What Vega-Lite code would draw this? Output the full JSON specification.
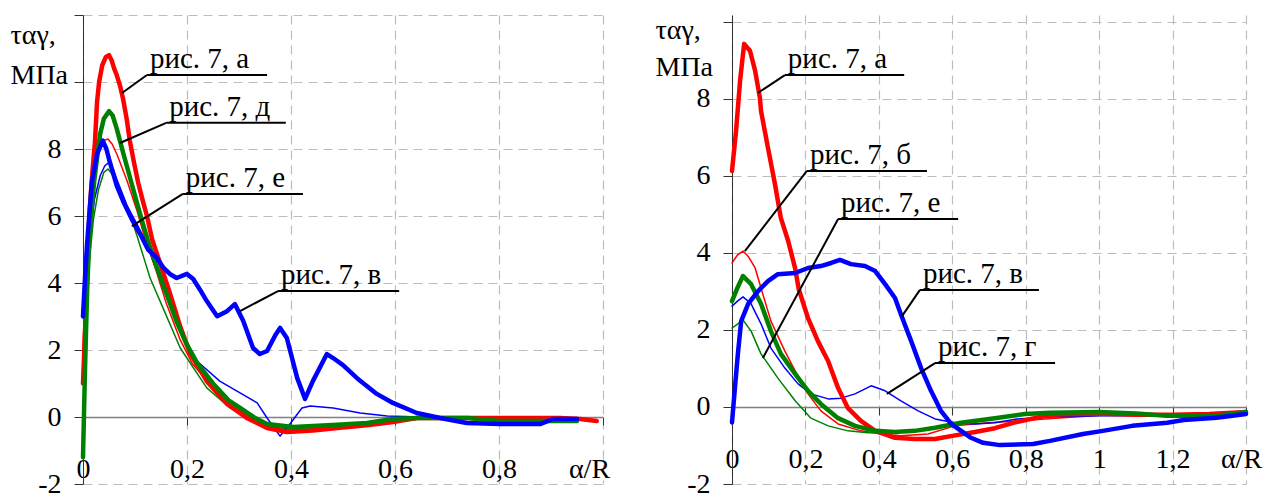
{
  "$schema": "https://vega.github.io/schema/vega-lite/v6.json",
  "padding": {"left": 10, "top": 1, "right": 5, "bottom": 0},
  "bounds": "flush",
  "spacing": 129,
  "config": {
    "view": {"stroke": null}
  },
  "datasets": {
    "curves": [
      {"panel": "left", "fig": "а", "x": 0, "y": 1.0},
      {"panel": "left", "fig": "а", "x": 0.004, "y": 2.6},
      {"panel": "left", "fig": "а", "x": 0.007, "y": 4.3},
      {"panel": "left", "fig": "а", "x": 0.013, "y": 6.2},
      {"panel": "left", "fig": "а", "x": 0.018, "y": 7.3},
      {"panel": "left", "fig": "а", "x": 0.023, "y": 8.2},
      {"panel": "left", "fig": "а", "x": 0.027, "y": 9.4},
      {"panel": "left", "fig": "а", "x": 0.031, "y": 10.0},
      {"panel": "left", "fig": "а", "x": 0.037, "y": 10.5},
      {"panel": "left", "fig": "а", "x": 0.044, "y": 10.75},
      {"panel": "left", "fig": "а", "x": 0.05, "y": 10.8},
      {"panel": "left", "fig": "а", "x": 0.055, "y": 10.65},
      {"panel": "left", "fig": "а", "x": 0.06, "y": 10.4},
      {"panel": "left", "fig": "а", "x": 0.065, "y": 10.2},
      {"panel": "left", "fig": "а", "x": 0.071, "y": 9.9},
      {"panel": "left", "fig": "а", "x": 0.077, "y": 9.5},
      {"panel": "left", "fig": "а", "x": 0.084, "y": 8.9},
      {"panel": "left", "fig": "а", "x": 0.09, "y": 8.25},
      {"panel": "left", "fig": "а", "x": 0.098, "y": 7.6},
      {"panel": "left", "fig": "а", "x": 0.106, "y": 7.0},
      {"panel": "left", "fig": "а", "x": 0.115, "y": 6.45},
      {"panel": "left", "fig": "а", "x": 0.123, "y": 6.0},
      {"panel": "left", "fig": "а", "x": 0.133, "y": 5.3},
      {"panel": "left", "fig": "а", "x": 0.148, "y": 4.6},
      {"panel": "left", "fig": "а", "x": 0.167, "y": 3.7},
      {"panel": "left", "fig": "а", "x": 0.187, "y": 2.7},
      {"panel": "left", "fig": "а", "x": 0.206, "y": 1.9},
      {"panel": "left", "fig": "а", "x": 0.238, "y": 1.07},
      {"panel": "left", "fig": "а", "x": 0.277, "y": 0.39},
      {"panel": "left", "fig": "а", "x": 0.315, "y": -0.03},
      {"panel": "left", "fig": "а", "x": 0.354, "y": -0.33},
      {"panel": "left", "fig": "а", "x": 0.392, "y": -0.45},
      {"panel": "left", "fig": "а", "x": 0.442, "y": -0.4},
      {"panel": "left", "fig": "а", "x": 0.494, "y": -0.32},
      {"panel": "left", "fig": "а", "x": 0.546, "y": -0.25},
      {"panel": "left", "fig": "а", "x": 0.596, "y": -0.15},
      {"panel": "left", "fig": "а", "x": 0.642, "y": -0.03},
      {"panel": "left", "fig": "а", "x": 0.74, "y": -0.03},
      {"panel": "left", "fig": "а", "x": 0.917, "y": -0.03},
      {"panel": "left", "fig": "а", "x": 0.956, "y": -0.06},
      {"panel": "left", "fig": "а", "x": 0.988, "y": -0.12},

      {"panel": "left", "fig": "д", "x": 0, "y": -1.2},
      {"panel": "left", "fig": "д", "x": 0.004, "y": 1.5},
      {"panel": "left", "fig": "д", "x": 0.008, "y": 3.8},
      {"panel": "left", "fig": "д", "x": 0.012, "y": 5.3},
      {"panel": "left", "fig": "д", "x": 0.017, "y": 6.3},
      {"panel": "left", "fig": "д", "x": 0.022, "y": 7.1},
      {"panel": "left", "fig": "д", "x": 0.026, "y": 7.6},
      {"panel": "left", "fig": "д", "x": 0.033, "y": 8.45},
      {"panel": "left", "fig": "д", "x": 0.04, "y": 8.9},
      {"panel": "left", "fig": "д", "x": 0.05, "y": 9.13},
      {"panel": "left", "fig": "д", "x": 0.057, "y": 9.0},
      {"panel": "left", "fig": "д", "x": 0.065, "y": 8.6},
      {"panel": "left", "fig": "д", "x": 0.077, "y": 7.9},
      {"panel": "left", "fig": "д", "x": 0.094, "y": 6.94},
      {"panel": "left", "fig": "д", "x": 0.11, "y": 6.05},
      {"panel": "left", "fig": "д", "x": 0.125, "y": 5.25},
      {"panel": "left", "fig": "д", "x": 0.14, "y": 4.55},
      {"panel": "left", "fig": "д", "x": 0.16, "y": 3.7},
      {"panel": "left", "fig": "д", "x": 0.18, "y": 2.85},
      {"panel": "left", "fig": "д", "x": 0.2, "y": 2.15},
      {"panel": "left", "fig": "д", "x": 0.22, "y": 1.6},
      {"panel": "left", "fig": "д", "x": 0.25, "y": 1.0},
      {"panel": "left", "fig": "д", "x": 0.28, "y": 0.5},
      {"panel": "left", "fig": "д", "x": 0.302, "y": 0.27},
      {"panel": "left", "fig": "д", "x": 0.33, "y": -0.02},
      {"panel": "left", "fig": "д", "x": 0.354, "y": -0.21},
      {"panel": "left", "fig": "д", "x": 0.404, "y": -0.3},
      {"panel": "left", "fig": "д", "x": 0.48, "y": -0.24},
      {"panel": "left", "fig": "д", "x": 0.546, "y": -0.18},
      {"panel": "left", "fig": "д", "x": 0.596, "y": -0.06},
      {"panel": "left", "fig": "д", "x": 0.642, "y": -0.03},
      {"panel": "left", "fig": "д", "x": 0.74, "y": -0.03},
      {"panel": "left", "fig": "д", "x": 0.8, "y": -0.12},
      {"panel": "left", "fig": "д", "x": 0.95, "y": -0.12},

      {"panel": "left", "fig": "б", "x": 0, "y": 2.0},
      {"panel": "left", "fig": "б", "x": 0.006, "y": 4.5},
      {"panel": "left", "fig": "б", "x": 0.012, "y": 6.3},
      {"panel": "left", "fig": "б", "x": 0.02, "y": 7.3},
      {"panel": "left", "fig": "б", "x": 0.03, "y": 7.9},
      {"panel": "left", "fig": "б", "x": 0.04, "y": 8.25},
      {"panel": "left", "fig": "б", "x": 0.048, "y": 8.3},
      {"panel": "left", "fig": "б", "x": 0.056, "y": 8.15},
      {"panel": "left", "fig": "б", "x": 0.065, "y": 7.85},
      {"panel": "left", "fig": "б", "x": 0.085, "y": 7.04},
      {"panel": "left", "fig": "б", "x": 0.104, "y": 6.15},
      {"panel": "left", "fig": "б", "x": 0.119, "y": 5.34},
      {"panel": "left", "fig": "б", "x": 0.14, "y": 4.4},
      {"panel": "left", "fig": "б", "x": 0.16, "y": 3.4},
      {"panel": "left", "fig": "б", "x": 0.187, "y": 2.3},
      {"panel": "left", "fig": "б", "x": 0.21, "y": 1.6},
      {"panel": "left", "fig": "б", "x": 0.25, "y": 0.87},
      {"panel": "left", "fig": "б", "x": 0.28, "y": 0.4},
      {"panel": "left", "fig": "б", "x": 0.315, "y": 0.05},
      {"panel": "left", "fig": "б", "x": 0.35, "y": -0.25},
      {"panel": "left", "fig": "б", "x": 0.379, "y": -0.35},
      {"panel": "left", "fig": "б", "x": 0.42, "y": -0.38},
      {"panel": "left", "fig": "б", "x": 0.48, "y": -0.3},
      {"panel": "left", "fig": "б", "x": 0.55, "y": -0.2},
      {"panel": "left", "fig": "б", "x": 0.62, "y": -0.05},
      {"panel": "left", "fig": "б", "x": 0.7, "y": -0.02},
      {"panel": "left", "fig": "б", "x": 0.9, "y": -0.02},

      {"panel": "left", "fig": "е", "x": 0, "y": -0.5},
      {"panel": "left", "fig": "е", "x": 0.006, "y": 2.5},
      {"panel": "left", "fig": "е", "x": 0.012, "y": 4.6},
      {"panel": "left", "fig": "е", "x": 0.02, "y": 5.9},
      {"panel": "left", "fig": "е", "x": 0.03, "y": 6.8},
      {"panel": "left", "fig": "е", "x": 0.04, "y": 7.3},
      {"panel": "left", "fig": "е", "x": 0.048, "y": 7.4},
      {"panel": "left", "fig": "е", "x": 0.056, "y": 7.25},
      {"panel": "left", "fig": "е", "x": 0.071, "y": 6.84},
      {"panel": "left", "fig": "е", "x": 0.09, "y": 6.05},
      {"panel": "left", "fig": "е", "x": 0.104, "y": 5.4},
      {"panel": "left", "fig": "е", "x": 0.12, "y": 4.6},
      {"panel": "left", "fig": "е", "x": 0.129, "y": 4.15},
      {"panel": "left", "fig": "е", "x": 0.154, "y": 3.25},
      {"panel": "left", "fig": "е", "x": 0.187, "y": 2.06},
      {"panel": "left", "fig": "е", "x": 0.238, "y": 0.87},
      {"panel": "left", "fig": "е", "x": 0.283, "y": 0.27},
      {"panel": "left", "fig": "е", "x": 0.335, "y": -0.18},
      {"panel": "left", "fig": "е", "x": 0.379, "y": -0.33},
      {"panel": "left", "fig": "е", "x": 0.43, "y": -0.33},
      {"panel": "left", "fig": "е", "x": 0.5, "y": -0.25},
      {"panel": "left", "fig": "е", "x": 0.6, "y": -0.1},
      {"panel": "left", "fig": "е", "x": 0.7, "y": -0.03},
      {"panel": "left", "fig": "е", "x": 0.9, "y": -0.03},

      {"panel": "left", "fig": "г", "x": 0, "y": 1.0},
      {"panel": "left", "fig": "г", "x": 0.006, "y": 3.5},
      {"panel": "left", "fig": "г", "x": 0.013, "y": 5.3},
      {"panel": "left", "fig": "г", "x": 0.022, "y": 6.5},
      {"panel": "left", "fig": "г", "x": 0.033, "y": 7.2},
      {"panel": "left", "fig": "г", "x": 0.042, "y": 7.5},
      {"panel": "left", "fig": "г", "x": 0.05, "y": 7.6},
      {"panel": "left", "fig": "г", "x": 0.058, "y": 7.4},
      {"panel": "left", "fig": "г", "x": 0.065, "y": 7.1},
      {"panel": "left", "fig": "г", "x": 0.085, "y": 6.3},
      {"panel": "left", "fig": "г", "x": 0.104, "y": 5.75},
      {"panel": "left", "fig": "г", "x": 0.123, "y": 5.16},
      {"panel": "left", "fig": "г", "x": 0.154, "y": 3.85},
      {"panel": "left", "fig": "г", "x": 0.187, "y": 2.57},
      {"panel": "left", "fig": "г", "x": 0.219, "y": 1.67},
      {"panel": "left", "fig": "г", "x": 0.263, "y": 1.07},
      {"panel": "left", "fig": "г", "x": 0.302, "y": 0.72},
      {"panel": "left", "fig": "г", "x": 0.335, "y": 0.42},
      {"panel": "left", "fig": "г", "x": 0.354, "y": -0.03},
      {"panel": "left", "fig": "г", "x": 0.379, "y": -0.57},
      {"panel": "left", "fig": "г", "x": 0.398, "y": -0.21},
      {"panel": "left", "fig": "г", "x": 0.421, "y": 0.27},
      {"panel": "left", "fig": "г", "x": 0.437, "y": 0.33},
      {"panel": "left", "fig": "г", "x": 0.481, "y": 0.27},
      {"panel": "left", "fig": "г", "x": 0.533, "y": 0.12},
      {"panel": "left", "fig": "г", "x": 0.585, "y": 0.03},
      {"panel": "left", "fig": "г", "x": 0.65, "y": 0.0},
      {"panel": "left", "fig": "г", "x": 0.75, "y": -0.03},
      {"panel": "left", "fig": "г", "x": 0.9, "y": -0.03},

      {"panel": "left", "fig": "в", "x": 0, "y": 3.0},
      {"panel": "left", "fig": "в", "x": 0.004, "y": 4.2},
      {"panel": "left", "fig": "в", "x": 0.008, "y": 5.2},
      {"panel": "left", "fig": "в", "x": 0.017, "y": 7.0},
      {"panel": "left", "fig": "в", "x": 0.027, "y": 7.85},
      {"panel": "left", "fig": "в", "x": 0.038, "y": 8.25},
      {"panel": "left", "fig": "в", "x": 0.045, "y": 8.0},
      {"panel": "left", "fig": "в", "x": 0.05, "y": 7.7},
      {"panel": "left", "fig": "в", "x": 0.065, "y": 6.9},
      {"panel": "left", "fig": "в", "x": 0.077, "y": 6.45},
      {"panel": "left", "fig": "в", "x": 0.094, "y": 5.9},
      {"panel": "left", "fig": "в", "x": 0.11, "y": 5.46},
      {"panel": "left", "fig": "в", "x": 0.125, "y": 5.0},
      {"panel": "left", "fig": "в", "x": 0.142, "y": 4.75},
      {"panel": "left", "fig": "в", "x": 0.155, "y": 4.45},
      {"panel": "left", "fig": "в", "x": 0.167, "y": 4.27},
      {"panel": "left", "fig": "в", "x": 0.18, "y": 4.15},
      {"panel": "left", "fig": "в", "x": 0.2, "y": 4.27},
      {"panel": "left", "fig": "в", "x": 0.212, "y": 4.12},
      {"panel": "left", "fig": "в", "x": 0.225, "y": 3.8},
      {"panel": "left", "fig": "в", "x": 0.238, "y": 3.46},
      {"panel": "left", "fig": "в", "x": 0.258, "y": 3.01},
      {"panel": "left", "fig": "в", "x": 0.277, "y": 3.16},
      {"panel": "left", "fig": "в", "x": 0.292, "y": 3.37},
      {"panel": "left", "fig": "в", "x": 0.308, "y": 2.87},
      {"panel": "left", "fig": "в", "x": 0.327, "y": 2.06},
      {"panel": "left", "fig": "в", "x": 0.34, "y": 1.88},
      {"panel": "left", "fig": "в", "x": 0.354, "y": 1.97},
      {"panel": "left", "fig": "в", "x": 0.37, "y": 2.45},
      {"panel": "left", "fig": "в", "x": 0.379, "y": 2.66},
      {"panel": "left", "fig": "в", "x": 0.392, "y": 2.36},
      {"panel": "left", "fig": "в", "x": 0.412, "y": 1.16},
      {"panel": "left", "fig": "в", "x": 0.427, "y": 0.54},
      {"panel": "left", "fig": "в", "x": 0.442, "y": 1.07},
      {"panel": "left", "fig": "в", "x": 0.469, "y": 1.88},
      {"panel": "left", "fig": "в", "x": 0.481, "y": 1.76},
      {"panel": "left", "fig": "в", "x": 0.5, "y": 1.55},
      {"panel": "left", "fig": "в", "x": 0.527, "y": 1.16},
      {"panel": "left", "fig": "в", "x": 0.565, "y": 0.69},
      {"panel": "left", "fig": "в", "x": 0.596, "y": 0.42},
      {"panel": "left", "fig": "в", "x": 0.642, "y": 0.12},
      {"panel": "left", "fig": "в", "x": 0.687, "y": -0.03},
      {"panel": "left", "fig": "в", "x": 0.738, "y": -0.18},
      {"panel": "left", "fig": "в", "x": 0.802, "y": -0.21},
      {"panel": "left", "fig": "в", "x": 0.879, "y": -0.21},
      {"panel": "left", "fig": "в", "x": 0.904, "y": -0.06},
      {"panel": "left", "fig": "в", "x": 0.95, "y": -0.06},

      {"panel": "right", "fig": "а", "x": 0, "y": 6.13},
      {"panel": "right", "fig": "а", "x": 0.011, "y": 7.17},
      {"panel": "right", "fig": "а", "x": 0.022, "y": 8.47},
      {"panel": "right", "fig": "а", "x": 0.033, "y": 9.43},
      {"panel": "right", "fig": "а", "x": 0.049, "y": 9.25},
      {"panel": "right", "fig": "а", "x": 0.063, "y": 8.73},
      {"panel": "right", "fig": "а", "x": 0.076, "y": 8.03},
      {"panel": "right", "fig": "а", "x": 0.079, "y": 7.69},
      {"panel": "right", "fig": "а", "x": 0.098, "y": 6.73},
      {"panel": "right", "fig": "а", "x": 0.117, "y": 5.79},
      {"panel": "right", "fig": "а", "x": 0.133, "y": 4.91},
      {"panel": "right", "fig": "а", "x": 0.153, "y": 4.31},
      {"panel": "right", "fig": "а", "x": 0.172, "y": 3.6},
      {"panel": "right", "fig": "а", "x": 0.182, "y": 3.05},
      {"panel": "right", "fig": "а", "x": 0.207, "y": 2.31},
      {"panel": "right", "fig": "а", "x": 0.234, "y": 1.71},
      {"panel": "right", "fig": "а", "x": 0.262, "y": 1.19},
      {"panel": "right", "fig": "а", "x": 0.289, "y": 0.49},
      {"panel": "right", "fig": "а", "x": 0.316, "y": -0.03},
      {"panel": "right", "fig": "а", "x": 0.351, "y": -0.36},
      {"panel": "right", "fig": "а", "x": 0.39, "y": -0.62},
      {"panel": "right", "fig": "а", "x": 0.444, "y": -0.8},
      {"panel": "right", "fig": "а", "x": 0.498, "y": -0.83},
      {"panel": "right", "fig": "а", "x": 0.553, "y": -0.83},
      {"panel": "right", "fig": "а", "x": 0.6, "y": -0.75},
      {"panel": "right", "fig": "а", "x": 0.662, "y": -0.65},
      {"panel": "right", "fig": "а", "x": 0.716, "y": -0.55},
      {"panel": "right", "fig": "а", "x": 0.771, "y": -0.4},
      {"panel": "right", "fig": "а", "x": 0.866, "y": -0.2},
      {"panel": "right", "fig": "а", "x": 0.994, "y": -0.17},
      {"panel": "right", "fig": "а", "x": 1.1, "y": -0.2},
      {"panel": "right", "fig": "а", "x": 1.2, "y": -0.2},
      {"panel": "right", "fig": "а", "x": 1.3, "y": -0.18},
      {"panel": "right", "fig": "а", "x": 1.4, "y": -0.13},

      {"panel": "right", "fig": "б", "x": 0, "y": 3.74},
      {"panel": "right", "fig": "б", "x": 0.015, "y": 3.95},
      {"panel": "right", "fig": "б", "x": 0.03, "y": 4.05},
      {"panel": "right", "fig": "б", "x": 0.045, "y": 3.9},
      {"panel": "right", "fig": "б", "x": 0.063, "y": 3.61},
      {"panel": "right", "fig": "б", "x": 0.079, "y": 3.09},
      {"panel": "right", "fig": "б", "x": 0.106, "y": 2.23},
      {"panel": "right", "fig": "б", "x": 0.144, "y": 1.45},
      {"panel": "right", "fig": "б", "x": 0.172, "y": 0.94},
      {"panel": "right", "fig": "б", "x": 0.207, "y": 0.34},
      {"panel": "right", "fig": "б", "x": 0.242, "y": -0.1},
      {"panel": "right", "fig": "б", "x": 0.289, "y": -0.44},
      {"panel": "right", "fig": "б", "x": 0.351, "y": -0.62},
      {"panel": "right", "fig": "б", "x": 0.406, "y": -0.7},
      {"panel": "right", "fig": "б", "x": 0.46, "y": -0.75},
      {"panel": "right", "fig": "б", "x": 0.534, "y": -0.7},
      {"panel": "right", "fig": "б", "x": 0.607, "y": -0.49},
      {"panel": "right", "fig": "б", "x": 0.697, "y": -0.41},
      {"panel": "right", "fig": "б", "x": 0.787, "y": -0.36},
      {"panel": "right", "fig": "б", "x": 0.9, "y": -0.28},
      {"panel": "right", "fig": "б", "x": 1.0, "y": -0.22},
      {"panel": "right", "fig": "б", "x": 1.2, "y": -0.2},
      {"panel": "right", "fig": "б", "x": 1.4, "y": -0.15},

      {"panel": "right", "fig": "д", "x": 0, "y": 2.75},
      {"panel": "right", "fig": "д", "x": 0.015, "y": 3.1},
      {"panel": "right", "fig": "д", "x": 0.03, "y": 3.4},
      {"panel": "right", "fig": "д", "x": 0.052, "y": 3.19},
      {"panel": "right", "fig": "д", "x": 0.079, "y": 2.68},
      {"panel": "right", "fig": "д", "x": 0.106, "y": 1.97},
      {"panel": "right", "fig": "д", "x": 0.133, "y": 1.38},
      {"panel": "right", "fig": "д", "x": 0.172, "y": 0.86},
      {"panel": "right", "fig": "д", "x": 0.207, "y": 0.42},
      {"panel": "right", "fig": "д", "x": 0.242, "y": 0.08},
      {"panel": "right", "fig": "д", "x": 0.289, "y": -0.29},
      {"panel": "right", "fig": "д", "x": 0.335, "y": -0.49},
      {"panel": "right", "fig": "д", "x": 0.39, "y": -0.62},
      {"panel": "right", "fig": "д", "x": 0.444, "y": -0.65},
      {"panel": "right", "fig": "д", "x": 0.498, "y": -0.62},
      {"panel": "right", "fig": "д", "x": 0.553, "y": -0.54},
      {"panel": "right", "fig": "д", "x": 0.624, "y": -0.41},
      {"panel": "right", "fig": "д", "x": 0.716, "y": -0.29},
      {"panel": "right", "fig": "д", "x": 0.798, "y": -0.18},
      {"panel": "right", "fig": "д", "x": 0.866, "y": -0.15},
      {"panel": "right", "fig": "д", "x": 1.0, "y": -0.13},
      {"panel": "right", "fig": "д", "x": 1.1, "y": -0.17},
      {"panel": "right", "fig": "д", "x": 1.185, "y": -0.23},
      {"panel": "right", "fig": "д", "x": 1.32, "y": -0.23},
      {"panel": "right", "fig": "д", "x": 1.4, "y": -0.13},

      {"panel": "right", "fig": "е", "x": 0, "y": 2.05},
      {"panel": "right", "fig": "е", "x": 0.015, "y": 2.15},
      {"panel": "right", "fig": "е", "x": 0.03, "y": 2.26},
      {"panel": "right", "fig": "е", "x": 0.052, "y": 1.97},
      {"panel": "right", "fig": "е", "x": 0.079, "y": 1.38},
      {"panel": "right", "fig": "е", "x": 0.098, "y": 1.12},
      {"panel": "right", "fig": "е", "x": 0.125, "y": 0.75},
      {"panel": "right", "fig": "е", "x": 0.172, "y": 0.16},
      {"panel": "right", "fig": "е", "x": 0.215, "y": -0.29},
      {"panel": "right", "fig": "е", "x": 0.262, "y": -0.49},
      {"panel": "right", "fig": "е", "x": 0.316, "y": -0.62},
      {"panel": "right", "fig": "е", "x": 0.37, "y": -0.67},
      {"panel": "right", "fig": "е", "x": 0.425, "y": -0.67},
      {"panel": "right", "fig": "е", "x": 0.5, "y": -0.62},
      {"panel": "right", "fig": "е", "x": 0.553, "y": -0.54},
      {"panel": "right", "fig": "е", "x": 0.624, "y": -0.41},
      {"panel": "right", "fig": "е", "x": 0.716, "y": -0.29},
      {"panel": "right", "fig": "е", "x": 0.8, "y": -0.2},
      {"panel": "right", "fig": "е", "x": 0.9, "y": -0.15},
      {"panel": "right", "fig": "е", "x": 1.0, "y": -0.13},
      {"panel": "right", "fig": "е", "x": 1.2, "y": -0.22},
      {"panel": "right", "fig": "е", "x": 1.4, "y": -0.15},

      {"panel": "right", "fig": "г", "x": 0, "y": 2.62},
      {"panel": "right", "fig": "г", "x": 0.015, "y": 2.75},
      {"panel": "right", "fig": "г", "x": 0.03, "y": 2.86},
      {"panel": "right", "fig": "г", "x": 0.052, "y": 2.68},
      {"panel": "right", "fig": "г", "x": 0.079, "y": 2.16},
      {"panel": "right", "fig": "г", "x": 0.106, "y": 1.53},
      {"panel": "right", "fig": "г", "x": 0.144, "y": 1.01},
      {"panel": "right", "fig": "г", "x": 0.18, "y": 0.6},
      {"panel": "right", "fig": "г", "x": 0.215, "y": 0.34},
      {"panel": "right", "fig": "г", "x": 0.262, "y": 0.21},
      {"panel": "right", "fig": "г", "x": 0.297, "y": 0.23},
      {"panel": "right", "fig": "г", "x": 0.335, "y": 0.34},
      {"panel": "right", "fig": "г", "x": 0.379, "y": 0.55},
      {"panel": "right", "fig": "г", "x": 0.417, "y": 0.42},
      {"panel": "right", "fig": "г", "x": 0.46, "y": 0.16},
      {"panel": "right", "fig": "г", "x": 0.507, "y": -0.1},
      {"panel": "right", "fig": "г", "x": 0.553, "y": -0.31},
      {"panel": "right", "fig": "г", "x": 0.607, "y": -0.41},
      {"panel": "right", "fig": "г", "x": 0.662, "y": -0.44},
      {"panel": "right", "fig": "г", "x": 0.716, "y": -0.41},
      {"panel": "right", "fig": "г", "x": 0.776, "y": -0.31},
      {"panel": "right", "fig": "г", "x": 0.866, "y": -0.26},
      {"panel": "right", "fig": "г", "x": 1.0, "y": -0.23},
      {"panel": "right", "fig": "г", "x": 1.14, "y": -0.23},
      {"panel": "right", "fig": "г", "x": 1.32, "y": -0.23},
      {"panel": "right", "fig": "г", "x": 1.4, "y": -0.15},

      {"panel": "right", "fig": "в", "x": 0, "y": -0.4},
      {"panel": "right", "fig": "в", "x": 0.008, "y": 0.5},
      {"panel": "right", "fig": "в", "x": 0.016, "y": 1.38},
      {"panel": "right", "fig": "в", "x": 0.025, "y": 2.23},
      {"panel": "right", "fig": "в", "x": 0.044, "y": 2.68},
      {"panel": "right", "fig": "в", "x": 0.071, "y": 3.01},
      {"panel": "right", "fig": "в", "x": 0.098, "y": 3.27},
      {"panel": "right", "fig": "в", "x": 0.125, "y": 3.45},
      {"panel": "right", "fig": "в", "x": 0.172, "y": 3.48},
      {"panel": "right", "fig": "в", "x": 0.207, "y": 3.61},
      {"panel": "right", "fig": "в", "x": 0.242, "y": 3.66},
      {"panel": "right", "fig": "в", "x": 0.27, "y": 3.74},
      {"panel": "right", "fig": "в", "x": 0.294, "y": 3.82},
      {"panel": "right", "fig": "в", "x": 0.324, "y": 3.71},
      {"panel": "right", "fig": "в", "x": 0.362, "y": 3.66},
      {"panel": "right", "fig": "в", "x": 0.39, "y": 3.53},
      {"panel": "right", "fig": "в", "x": 0.417, "y": 3.19},
      {"panel": "right", "fig": "в", "x": 0.444, "y": 2.83},
      {"panel": "right", "fig": "в", "x": 0.46, "y": 2.41},
      {"panel": "right", "fig": "в", "x": 0.488, "y": 1.71},
      {"panel": "right", "fig": "в", "x": 0.515, "y": 1.01},
      {"panel": "right", "fig": "в", "x": 0.542, "y": 0.42},
      {"panel": "right", "fig": "в", "x": 0.569, "y": -0.1},
      {"panel": "right", "fig": "в", "x": 0.597, "y": -0.44},
      {"panel": "right", "fig": "в", "x": 0.624, "y": -0.62},
      {"panel": "right", "fig": "в", "x": 0.651, "y": -0.8},
      {"panel": "right", "fig": "в", "x": 0.684, "y": -0.93},
      {"panel": "right", "fig": "в", "x": 0.73, "y": -0.99},
      {"panel": "right", "fig": "в", "x": 0.82, "y": -0.96},
      {"panel": "right", "fig": "в", "x": 0.866, "y": -0.88},
      {"panel": "right", "fig": "в", "x": 0.956, "y": -0.7},
      {"panel": "right", "fig": "в", "x": 1.01, "y": -0.62},
      {"panel": "right", "fig": "в", "x": 1.09, "y": -0.49},
      {"panel": "right", "fig": "в", "x": 1.185, "y": -0.41},
      {"panel": "right", "fig": "в", "x": 1.23, "y": -0.34},
      {"panel": "right", "fig": "в", "x": 1.32, "y": -0.28},
      {"panel": "right", "fig": "в", "x": 1.4, "y": -0.18}
    ],
    "notes": [
      {"panel": "left", "label": "рис. 7, а", "x1": 0.123, "x2": 0.354, "y": 10.21, "xe": 0.075, "ye": 9.67},
      {"panel": "left", "label": "рис. 7, д", "x1": 0.160, "x2": 0.390, "y": 8.78, "xe": 0.071, "ye": 8.18},
      {"panel": "left", "label": "рис. 7, е", "x1": 0.192, "x2": 0.423, "y": 6.66, "xe": 0.094, "ye": 5.70},
      {"panel": "left", "label": "рис. 7, в", "x1": 0.375, "x2": 0.608, "y": 3.76, "xe": 0.302, "ye": 3.16},
      {"panel": "right", "label": "рис. 7, а", "x1": 0.144, "x2": 0.469, "y": 8.62, "xe": 0.071, "ye": 8.16},
      {"panel": "right", "label": "рис. 7, б", "x1": 0.204, "x2": 0.531, "y": 6.13, "xe": 0.035, "ye": 4.05},
      {"panel": "right", "label": "рис. 7, е", "x1": 0.289, "x2": 0.616, "y": 4.88, "xe": 0.084, "ye": 1.27},
      {"panel": "right", "label": "рис. 7, в", "x1": 0.512, "x2": 0.836, "y": 3.04, "xe": 0.463, "ye": 2.36},
      {"panel": "right", "label": "рис. 7, г", "x1": 0.553, "x2": 0.880, "y": 1.14, "xe": 0.422, "ye": 0.34}
    ]
  },
  "hconcat": [
    {
      "width": 520,
      "height": 469,
      "encoding": {
        "x": {
          "type": "quantitative",
          "scale": {"domain": [0, 1], "nice": false, "zero": false},
          "axis": {
            "title": null,
            "values": [0, 0.2, 0.4, 0.6, 0.8, 1],
            "labelExpr": "datum.value > 0.99 ? 'α/R' : replace(format(datum.value, '~g'), '.', ',')",
            "labelOffset": {"condition": {"test": "datum.value > 0.99", "value": -14}, "value": 0},
            "labelFont": "Liberation Serif",
            "labelFontSize": 28,
            "labelColor": "#000000",
            "labelOverlap": false,
            "labelFlush": false,
            "offset": -67,
            "grid": true,
            "gridDash": [9, 6],
            "gridColor": "#bdbdbd",
            "gridWidth": 1.2,
            "domainColor": "#808080",
            "domainWidth": 1.5,
            "tickColor": "#333333",
            "tickSize": 8,
            "labelPadding": 30
          }
        },
        "y": {
          "type": "quantitative",
          "scale": {"domain": [-2, 12], "nice": false, "zero": false},
          "axis": {
            "values": [-2, 0, 2, 4, 6, 8, 10, 12],
            "labelExpr": "datum.value >= 10 ? '' : datum.value < 0 ? '-' + abs(datum.value) : datum.label",
            "labelFont": "Liberation Serif",
            "labelFontSize": 28,
            "labelColor": "#000000",
            "labelOverlap": false,
            "title": ["ταγ,", "МПа"],
            "titleFont": "Liberation Serif",
            "titleFontSize": 28,
            "titleFontWeight": "normal",
            "titleColor": "#000000",
            "titleAngle": 0,
            "titleAlign": "left",
            "titleBaseline": "top",
            "titleX": -73,
            "titleY": 6,
            "titleLineHeight": 40,
            "grid": true,
            "gridDash": [9, 6],
            "gridColor": "#bdbdbd",
            "gridWidth": 1.2,
            "domainColor": "#333333",
            "tickColor": "#333333",
            "tickSize": 9,
            "labelPadding": 13
          }
        }
      },
      "layer": [
        {
          "data": {"name": "curves"},
          "transform": [{"filter": "datum.panel == 'left' && (datum.fig == 'б' || datum.fig == 'г' || datum.fig == 'е')"}],
          "mark": {"type": "line", "strokeWidth": 1.5, "strokeJoin": "round", "strokeCap": "round"},
          "encoding": {
            "x": {"field": "x"},
            "y": {"field": "y"},
            "color": {
              "field": "fig", "type": "nominal", "legend": null,
              "scale": {"domain": ["а", "б", "в", "г", "д", "е"], "range": ["#ff0000", "#ff0000", "#0000ff", "#0000ff", "#008000", "#008000"]}
            }
          }
        },
        {
          "data": {"name": "curves"},
          "transform": [{"filter": "datum.panel == 'left' && (datum.fig == 'а' || datum.fig == 'в' || datum.fig == 'д')"}],
          "mark": {"type": "line", "strokeWidth": 4.5, "strokeJoin": "round", "strokeCap": "round"},
          "encoding": {
            "x": {"field": "x"},
            "y": {"field": "y"},
            "color": {"field": "fig", "type": "nominal", "legend": null}
          }
        },
        {
          "data": {"name": "notes"},
          "transform": [{"filter": "datum.panel == 'left'"}],
          "mark": {"type": "rule", "color": "black", "strokeWidth": 2},
          "encoding": {
            "x": {"field": "x1"},
            "x2": {"field": "x2"},
            "y": {"field": "y"}
          }
        },
        {
          "data": {"name": "notes"},
          "transform": [{"filter": "datum.panel == 'left'"}],
          "mark": {"type": "rule", "color": "black", "strokeWidth": 2},
          "encoding": {
            "x": {"field": "x1"},
            "x2": {"field": "xe"},
            "y": {"field": "y"},
            "y2": {"field": "ye"}
          }
        },
        {
          "data": {"name": "notes"},
          "transform": [{"filter": "datum.panel == 'left'"}],
          "mark": {"type": "text", "align": "left", "baseline": "alphabetic", "dx": 3, "dy": -7, "fontSize": 29, "font": "Liberation Serif", "color": "black"},
          "encoding": {
            "x": {"field": "x1"},
            "y": {"field": "y"},
            "text": {"field": "label"}
          }
        }
      ]
    },
    {
      "width": 514,
      "height": 469,
      "encoding": {
        "x": {
          "type": "quantitative",
          "scale": {"domain": [0, 1.4], "nice": false, "zero": false},
          "axis": {
            "title": null,
            "values": [0, 0.2, 0.4, 0.6, 0.8, 1, 1.2, 1.4],
            "labelExpr": "datum.value > 1.39 ? 'α/R' : replace(format(datum.value, '~g'), '.', ',')",
            "labelOffset": {"condition": {"test": "datum.value > 1.39", "value": -5}, "value": 0},
            "labelFont": "Liberation Serif",
            "labelFontSize": 28,
            "labelColor": "#000000",
            "labelOverlap": false,
            "labelFlush": false,
            "offset": -77,
            "grid": true,
            "gridDash": [9, 6],
            "gridColor": "#bdbdbd",
            "gridWidth": 1.2,
            "domainColor": "#808080",
            "domainWidth": 1.5,
            "tickColor": "#333333",
            "tickSize": 8,
            "labelPadding": 30
          }
        },
        "y": {
          "type": "quantitative",
          "scale": {"domain": [-2, 10.18], "nice": false, "zero": false},
          "axis": {
            "values": [-2, 0, 2, 4, 6, 8, 10],
            "labelExpr": "datum.value >= 10 ? '' : datum.value < 0 ? '-' + abs(datum.value) : datum.label",
            "labelFont": "Liberation Serif",
            "labelFontSize": 28,
            "labelColor": "#000000",
            "labelOverlap": false,
            "title": ["ταγ,", "МПа"],
            "titleFont": "Liberation Serif",
            "titleFontSize": 28,
            "titleFontWeight": "normal",
            "titleColor": "#000000",
            "titleAngle": 0,
            "titleAlign": "left",
            "titleBaseline": "top",
            "titleX": -77,
            "titleY": 1,
            "titleLineHeight": 37,
            "grid": true,
            "gridDash": [9, 6],
            "gridColor": "#bdbdbd",
            "gridWidth": 1.2,
            "domainColor": "#333333",
            "tickColor": "#333333",
            "tickSize": 9,
            "labelPadding": 13
          }
        }
      },
      "layer": [
        {
          "data": {"name": "curves"},
          "transform": [{"filter": "datum.panel == 'right' && (datum.fig == 'б' || datum.fig == 'г' || datum.fig == 'е')"}],
          "mark": {"type": "line", "strokeWidth": 1.5, "strokeJoin": "round", "strokeCap": "round"},
          "encoding": {
            "x": {"field": "x"},
            "y": {"field": "y"},
            "color": {
              "field": "fig", "type": "nominal", "legend": null,
              "scale": {"domain": ["а", "б", "в", "г", "д", "е"], "range": ["#ff0000", "#ff0000", "#0000ff", "#0000ff", "#008000", "#008000"]}
            }
          }
        },
        {
          "data": {"name": "curves"},
          "transform": [{"filter": "datum.panel == 'right' && (datum.fig == 'а' || datum.fig == 'в' || datum.fig == 'д')"}],
          "mark": {"type": "line", "strokeWidth": 4.5, "strokeJoin": "round", "strokeCap": "round"},
          "encoding": {
            "x": {"field": "x"},
            "y": {"field": "y"},
            "color": {"field": "fig", "type": "nominal", "legend": null}
          }
        },
        {
          "data": {"name": "notes"},
          "transform": [{"filter": "datum.panel == 'right'"}],
          "mark": {"type": "rule", "color": "black", "strokeWidth": 2},
          "encoding": {
            "x": {"field": "x1"},
            "x2": {"field": "x2"},
            "y": {"field": "y"}
          }
        },
        {
          "data": {"name": "notes"},
          "transform": [{"filter": "datum.panel == 'right'"}],
          "mark": {"type": "rule", "color": "black", "strokeWidth": 2},
          "encoding": {
            "x": {"field": "x1"},
            "x2": {"field": "xe"},
            "y": {"field": "y"},
            "y2": {"field": "ye"}
          }
        },
        {
          "data": {"name": "notes"},
          "transform": [{"filter": "datum.panel == 'right'"}],
          "mark": {"type": "text", "align": "left", "baseline": "alphabetic", "dx": 3, "dy": -7, "fontSize": 29, "font": "Liberation Serif", "color": "black"},
          "encoding": {
            "x": {"field": "x1"},
            "y": {"field": "y"},
            "text": {"field": "label"}
          }
        }
      ]
    }
  ]
}
